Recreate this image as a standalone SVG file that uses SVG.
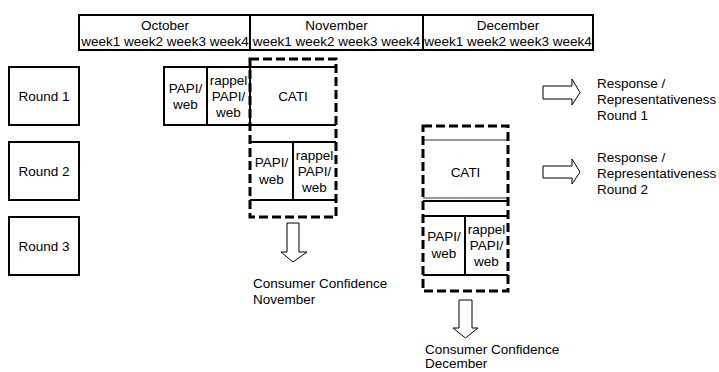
<svg xmlns="http://www.w3.org/2000/svg" width="719" height="372" viewBox="0 0 719 372">
<style>
text{font-family:"Liberation Sans",Arial,sans-serif;font-size:13.5px;fill:#000}
.c{text-anchor:middle}
.box{fill:none;stroke:#000;stroke-width:2}
.ln{stroke:#000;stroke-width:2;fill:none}
.thin{stroke:#333;stroke-width:1.2;fill:none}
.dash{fill:none;stroke:#000;stroke-width:3;stroke-dasharray:9 4}
.arr{fill:#fff;stroke:#000;stroke-width:1}
</style>
<rect width="719" height="372" fill="#fff"/>
<g id="header">
<rect class="box" x="79" y="15" width="514" height="35"/>
<line class="ln" x1="250" y1="15" x2="250" y2="50"/>
<line class="ln" x1="423" y1="15" x2="423" y2="50"/>
<text class="c" x="165" y="30">October</text>
<text class="c" x="165" y="46">week1 week2 week3 week4</text>
<text class="c" x="336.5" y="30">November</text>
<text class="c" x="336.5" y="46">week1 week2 week3 week4</text>
<text class="c" x="508" y="30">December</text>
<text class="c" x="508" y="46">week1 week2 week3 week4</text>
</g>
<g id="round1">
<rect class="box" x="9" y="67" width="70" height="58"/>
<text class="c" x="44" y="101">Round 1</text>
</g>
<g id="round2">
<rect class="box" x="9" y="142" width="70" height="58"/>
<text class="c" x="44" y="176">Round 2</text>
</g>
<g id="round3">
<rect class="box" x="9" y="217" width="70" height="58"/>
<text class="c" x="44" y="251">Round 3</text>
</g>
<g id="r1-papi">
<rect class="box" x="164" y="67" width="86" height="58"/>
<line class="ln" x1="207" y1="67" x2="207" y2="125"/>
<text class="c" x="185.5" y="93">PAPI/</text>
<text class="c" x="185.5" y="109">web</text>
<text class="c" x="228.5" y="85">rappel</text>
<text class="c" x="228.5" y="101">PAPI/</text>
<text class="c" x="228.5" y="117">web</text>
</g>
<g id="r1-cati">
<line class="ln" x1="250" y1="67" x2="336" y2="67"/>
<line class="ln" x1="250" y1="125" x2="336" y2="125"/>
<text class="c" x="293" y="101">CATI</text>
</g>
<g id="r2-papi">
<line class="ln" x1="250" y1="142" x2="336" y2="142"/>
<line class="ln" x1="250" y1="200" x2="336" y2="200"/>
<line class="ln" x1="293" y1="142" x2="293" y2="200"/>
<text class="c" x="271.5" y="167">PAPI/</text>
<text class="c" x="271.5" y="184">web</text>
<text class="c" x="314.5" y="160">rappel</text>
<text class="c" x="314.5" y="176">PAPI/</text>
<text class="c" x="314.5" y="192">web</text>
</g>
<g id="nov-block">
<rect class="dash" x="250" y="59" width="86" height="158"/>
</g>
<g id="r2-cati">
<line class="thin" x1="423" y1="140" x2="508" y2="140"/>
<line class="thin" x1="423" y1="198" x2="508" y2="198"/>
<text class="c" x="465.5" y="177">CATI</text>
</g>
<g id="r3-papi">
<line class="ln" x1="423" y1="201" x2="508" y2="201"/>
<line class="ln" x1="423" y1="216" x2="508" y2="216"/>
<line class="ln" x1="423" y1="275" x2="508" y2="275"/>
<line class="ln" x1="465" y1="216" x2="465" y2="275"/>
<text class="c" x="444" y="241">PAPI/</text>
<text class="c" x="444" y="258">web</text>
<text class="c" x="486.5" y="234">rappel</text>
<text class="c" x="486.5" y="250">PAPI/</text>
<text class="c" x="486.5" y="266">web</text>
</g>
<g id="dec-block">
<rect class="dash" x="423" y="126" width="85" height="165"/>
</g>
<g id="connectors">
<polygon class="arr" points="543,86 572,86 572,79 580,92.5 572,105 572,99 543,99"/>
<polygon class="arr" points="543,166 572,166 572,159 580,172 572,184 572,178 543,178"/>
<polygon class="arr" points="287,223 299,223 299,252 307,252 293,262 281,252 287,252"/>
<polygon class="arr" points="459,300 472,300 472,328 478,328 465.5,338 453,328 459,328"/>
</g>
<g id="labels">
<text x="597" y="88">Response /</text>
<text x="597" y="104">Representativeness</text>
<text x="597" y="120">Round 1</text>
<text x="597" y="162">Response /</text>
<text x="597" y="178">Representativeness</text>
<text x="597" y="194">Round 2</text>
<text x="253" y="288">Consumer Confidence</text>
<text x="253" y="304">November</text>
<text x="425" y="354">Consumer Confidence</text>
<text x="425" y="368">December</text>
</g>
</svg>
